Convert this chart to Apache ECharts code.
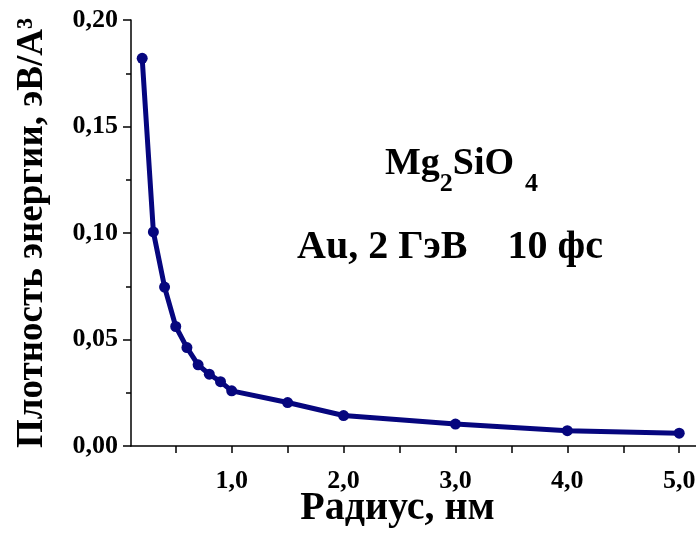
<!DOCTYPE html>
<html>
<head>
<meta charset="utf-8">
<script src="https://cdn.jsdelivr.net/npm/echarts@6/dist/echarts.min.js"></script>
<style>
  html, body { margin: 0; padding: 0; background: #fff; }
  #chart { width: 696px; height: 534px; }
</style>
</head>
<body>
<div id="chart"></div>
<script>
// ========================================
// 数据
// ========================================
const radius = [0.2, 0.3, 0.4, 0.5, 0.6, 0.7, 0.8, 0.9, 1.0, 1.5, 2.0, 3.0, 4.0, 5.0];
const density = [0.182, 0.1005, 0.0746, 0.0561, 0.0462, 0.0381, 0.0337, 0.0302, 0.0259, 0.0204, 0.0143, 0.0103, 0.0072, 0.0060];

const xTicks = [0.5, 1.0, 1.5, 2.0, 2.5, 3.0, 3.5, 4.0, 4.5, 5.0];
const xLabels = [1.0, 2.0, 3.0, 4.0, 5.0];

const FONT = '"Liberation Serif", "Times New Roman", serif';
const LINE_COLOR = '#06067e';

function initChart() {
  const chartDom = document.getElementById('chart');
  const myChart = echarts.init(chartDom);

  const option = {
    backgroundColor: '#fff',
    animation: false,
    grid: {
      left: 131,
      right: 0,
      top: 20,
      bottom: 88,
      containLabel: false,
      outerBoundsMode: 'none'
    },
    xAxis: {
      type: 'value',
      min: 0.1,
      max: 5.15,
      name: 'Радиус, нм',
      nameLocation: 'middle',
      nameGap: 43,
      nameMoveOverlap: false,
      nameTextStyle: {
        fontFamily: FONT,
        fontWeight: 'bold',
        fontSize: 40,
        color: '#000',
        padding: [0, 32, 0, 0]
      },
      axisLine: { onZero: false, lineStyle: { color: '#000', width: 1.5 } },
      axisTick: {
        show: true,
        customValues: xTicks,
        length: 7,
        lineStyle: { color: '#000', width: 1.5 }
      },
      axisLabel: {
        customValues: xLabels,
        margin: 22,
        fontFamily: FONT,
        fontWeight: 'bold',
        fontSize: 26,
        color: '#000',
        formatter: function(v) { return v.toFixed(1).replace('.', ','); }
      },
      splitLine: { show: false }
    },
    yAxis: {
      type: 'value',
      min: 0,
      max: 0.2,
      interval: 0.05,
      name: 'Плотность энергии, эВ/A³',
      nameLocation: 'middle',
      nameGap: 80,
      nameMoveOverlap: false,
      nameTextStyle: {
        fontFamily: FONT,
        fontWeight: 'bold',
        fontSize: 37,
        color: '#000'
      },
      axisLine: { show: true, lineStyle: { color: '#000', width: 1.5 } },
      axisTick: { show: true, length: 8, lineStyle: { color: '#000', width: 1.5 } },
      minorTick: { show: true, splitNumber: 2, length: 5, lineStyle: { color: '#000', width: 1.5 } },
      axisLabel: {
        margin: 13,
        fontFamily: FONT,
        fontWeight: 'bold',
        fontSize: 26,
        color: '#000',
        formatter: function(v) { return v.toFixed(2).replace('.', ','); }
      },
      splitLine: { show: false }
    },
    graphic: [
      {
        type: 'text',
        left: 385,
        top: 145,
        style: {
          text: '{n|Mg}{s|2}{n|SiO}{t|4}',
          fill: '#000',
          rich: {
            n: { fontFamily: FONT, fontWeight: 'bold', fontSize: 38, lineHeight: 38, verticalAlign: 'top' },
            s: { fontFamily: FONT, fontWeight: 'bold', fontSize: 26, lineHeight: 26, padding: [26, 0, 0, 0], verticalAlign: 'top' },
            t: { fontFamily: FONT, fontWeight: 'bold', fontSize: 26, lineHeight: 26, padding: [26, 0, 0, 11], verticalAlign: 'top' }
          }
        }
      },
      {
        type: 'text',
        left: 297,
        top: 228,
        style: {
          text: 'Au, 2 ГэВ    10 фс',
          fill: '#000',
          fontFamily: FONT,
          fontWeight: 'bold',
          fontSize: 40
        }
      }
    ],
    series: [{
      type: 'line',
      data: radius.map((x, i) => [x, density[i]]),
      symbol: 'circle',
      symbolSize: 11,
      itemStyle: { color: LINE_COLOR },
      lineStyle: { color: LINE_COLOR, width: 5 }
    }]
  };

  myChart.setOption(option);
}

initChart();
</script>
</body>
</html>
